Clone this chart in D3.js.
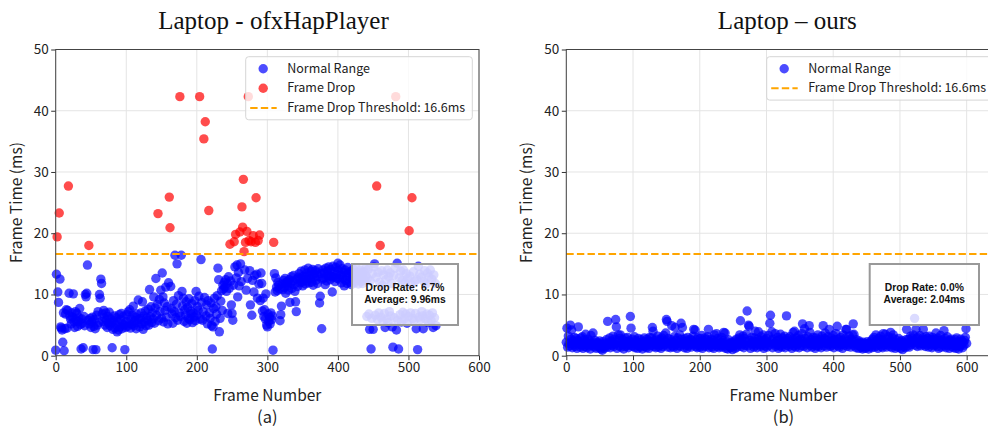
<!DOCTYPE html>
<html>
<head>
<meta charset="utf-8">
<script src="https://cdn.jsdelivr.net/npm/d3@7"></script>
<style>
    html, body { margin: 0; padding: 0; background: #fff; }
    svg { display: block; }
    .tick text { font-family: "Noto Sans CJK KR", "Noto Sans", sans-serif; }
</style>
</head>
<body>
<div id="chart"></div>
<script>
// frame time (ms) per frame number
let hapFrameTimes = [
    0.9, 13.3, 19.4, 10.4, 8.7, 23.3, 12.5, 4.7, 4.5, 4.2,
    2.2, 7.0, 0.8, 4.4, 6.8, 7.5, 4.5, 7.4, 27.7, 10.2,
    6.5, 6.0, 5.2, 7.0, 6.3, 10.1, 5.5, 4.6, 7.2, 5.8,
    6.9, 4.8, 5.6, 6.2, 7.7, 5.1, 1.1, 6.0, 5.3, 1.3,
    6.4, 4.9, 10.0, 9.6, 10.2, 14.8, 5.8, 18.0, 5.2, 6.1,
    4.6, 5.5, 6.3, 1.0, 4.8, 5.9, 4.4, 1.0, 6.6, 5.0,
    7.2, 5.4, 10.0, 9.4, 12.5, 11.8, 6.8, 5.6, 7.4, 6.2,
    5.0, 7.0, 5.8, 4.6, 6.4, 5.3, 7.1, 4.9, 6.0, 5.4,
    1.3, 4.3, 5.7, 6.5, 4.5, 5.1, 6.2, 3.9, 5.5, 4.2,
    6.7, 4.7, 5.9, 6.9, 4.4, 5.2, 6.4, 5.0, 1.0, 4.6,
    5.6, 6.7, 4.8, 7.2, 5.3, 7.5, 4.5, 6.0, 5.1, 6.6,
    8.1, 4.9, 5.7, 6.3, 4.4, 6.8, 5.4, 9.1, 5.9, 4.7,
    6.1, 7.0, 5.2, 8.8, 4.3, 6.5, 5.5, 7.3, 4.9, 6.2,
    5.8, 7.6, 5.0, 10.8, 6.4, 8.0, 5.4, 7.0, 6.0, 9.6,
    5.3, 7.8, 12.6, 6.6, 8.4, 23.2, 5.7, 9.2, 7.2, 10.7,
    6.1, 13.5, 9.6, 5.5, 8.6, 7.4, 11.2, 6.3, 8.0, 5.2,
    11.9, 25.9, 20.9, 11.3, 7.7, 6.8, 5.3, 9.0, 7.2, 16.4,
    6.2, 8.4, 15.0, 5.8, 9.8, 7.0, 42.3, 6.4, 16.4, 10.5,
    8.1, 9.4, 5.6, 7.5, 6.6, 8.8, 5.3, 7.9, 6.1, 9.3,
    5.9, 7.3, 6.8, 8.5, 5.4, 7.0, 6.3, 9.0, 5.7, 10.5,
    6.6, 8.0, 7.4, 9.7, 42.3, 6.0, 15.7, 8.7, 5.8, 7.2,
    35.4, 9.5, 38.2, 6.5, 8.3, 5.2, 9.0, 23.7, 7.0, 6.1,
    8.6, 4.9, 1.1, 4.7, 7.7, 9.4, 5.6, 8.0, 6.8, 9.8,
    14.3, 12.4, 3.9, 6.1, 8.9, 10.6, 7.4, 11.5, 10.9, 12.0,
    11.2, 12.4, 10.5, 11.8, 6.9, 12.9, 11.0, 18.2, 12.2, 8.3,
    6.9, 5.8, 11.5, 18.6, 14.5, 19.8, 12.7, 14.8, 9.6, 13.6,
    11.4, 20.2, 15.0, 12.1, 24.3, 21.0, 28.8, 17.0, 14.0, 18.5,
    10.7, 20.3, 12.6, 42.3, 18.8, 13.9, 8.3, 18.6, 6.6, 12.3,
    19.6, 10.4, 13.1, 18.5, 25.8, 13.3, 9.4, 18.8, 11.7, 19.7,
    9.0, 13.5, 11.8, 7.3, 9.4, 6.4, 7.5, 6.0, 10.1, 5.0,
    4.7, 6.8, 5.6, 6.3, 5.2, 7.0, 5.9, 6.5, 0.9, 18.5,
    13.4, 10.4, 12.7, 11.2, 10.6, 12.0, 11.5, 10.9, 5.7, 6.7,
    8.1, 11.7, 10.8, 12.3, 11.1, 12.6, 10.2, 11.9, 12.1, 11.4,
    10.7, 12.4, 8.7, 11.8, 12.9, 11.0, 12.2, 13.1, 11.6, 10.5,
    8.8, 7.2, 12.5, 11.3, 12.8, 13.4, 11.9, 12.6, 13.8, 12.0,
    11.4, 13.0, 12.4, 14.0, 11.7, 12.9, 13.5, 12.2, 14.3, 11.9,
    13.1, 12.6, 13.8, 12.0, 14.1, 11.5, 13.3, 12.8, 13.9, 12.3,
    13.6, 11.8, 14.2, 12.9, 8.6, 9.7, 13.4, 4.4, 12.5, 14.0,
    12.7, 13.5, 11.6, 14.3, 12.2, 13.8, 12.9, 14.5, 13.1, 12.4,
    14.1, 13.0, 10.4, 14.6, 12.8, 13.7, 12.1, 14.4, 13.3, 12.6,
    15.1, 13.9, 12.5, 14.8, 13.2, 11.9, 14.2, 12.7, 13.6, 11.4,
    14.0, 12.3, 13.1, 11.8, 14.4, 12.9, 13.5, 12.0, 13.8, 11.6,
    13.3, 12.5, 14.1, 11.9, 13.0, 12.2, 14.3, 12.8, 13.6, 11.7,
    13.2, 12.4, 14.0, 12.1, 13.5, 11.8, 12.9, 13.7, 12.3, 14.2,
    13.0, 6.4, 12.6, 14.1, 6.8, 4.3, 12.2, 1.1, 6.1, 13.4,
    4.3, 14.5, 15.0, 6.6, 12.8, 27.7, 5.9, 13.6, 7.0, 12.0,
    18.0, 6.3, 13.9, 11.5, 5.6, 13.2, 6.9, 4.6, 12.4, 6.0,
    14.0, 5.4, 12.9, 7.2, 13.5, 6.5, 11.8, 4.7, 1.4, 13.1,
    6.2, 14.3, 42.3, 4.2, 15.1, 5.8, 1.1, 12.7, 6.7, 13.8,
    5.5, 12.3, 7.1, 14.0, 6.0, 11.9, 6.8, 13.4, 5.3, 12.6,
    6.4, 20.4, 13.0, 7.0, 11.6, 25.8, 6.1, 13.7, 5.7, 12.2,
    6.9, 4.4, 12.4, 1.0, 14.6, 6.3, 13.3, 5.9, 12.8, 7.2,
    6.5, 4.4, 12.1, 13.9, 6.0, 11.7, 6.8, 13.5, 5.4, 12.9,
    6.6, 14.0, 5.8, 12.5, 7.0, 4.6, 13.2, 6.2, 11.8, 4.9
];

let oursFrameTimes = [
    2.2, 4.5, 1.4, 3.2, 2.0, 1.6, 5.0, 2.7, 4.2, 1.3, 2.4, 1.8, 3.0, 1.5, 2.1, 2.8, 1.2, 2.5, 4.7, 1.9,
    2.3, 1.4, 2.9, 1.7, 3.1, 1.2, 2.0, 2.6, 1.5, 3.5, 2.2, 1.3, 1.9, 2.7, 1.6, 2.4, 1.1, 3.3, 2.0, 1.7,
    3.7, 2.1, 1.4, 2.5, 1.8, 1.2, 2.2, 1.6, 2.0, 1.3, 2.4, 1.7, 1.1, 1.9, 0.9, 2.3, 1.5, 1.2, 2.0, 1.6,
    2.6, 1.4, 5.6, 2.1, 1.8, 2.9, 1.3, 2.4, 1.7, 2.2, 3.2, 1.5, 2.7, 1.9, 5.9, 4.7, 1.2, 2.5, 3.4, 1.6,
    2.8, 3.4, 1.4, 2.2, 1.8, 2.6, 1.1, 2.0, 2.9, 1.5, 2.3, 1.7, 3.0, 1.3, 2.4, 1.9, 6.4, 4.5, 1.6, 2.7,
    1.5, 2.1, 3.1, 1.3, 2.5, 1.8, 2.2, 1.2, 2.8, 1.6, 2.0, 1.4, 2.6, 1.9, 1.1, 2.3, 1.7, 2.9, 1.5, 2.1,
    1.3, 2.7, 1.8, 2.4, 1.2, 3.0, 1.6, 2.2, 2.9, 4.6, 4.0, 1.5, 2.5, 1.9, 1.3, 2.7, 1.8, 3.2, 1.4, 2.3,
    1.7, 2.6, 1.2, 2.9, 2.0, 1.5, 3.3, 1.8, 2.4, 3.7, 5.9, 5.6, 1.4, 2.8, 1.9, 2.3, 1.3, 2.6, 4.9, 1.6,
    2.2, 1.4, 3.1, 4.6, 1.8, 2.5, 1.2, 2.9, 1.6, 2.1, 3.4, 1.5, 5.3, 2.7, 4.6, 1.9, 2.3, 1.3, 2.8, 1.7,
    2.4, 1.2, 3.0, 1.6, 2.2, 1.9, 2.7, 1.4, 2.5, 1.8, 3.2, 4.3, 2.0, 4.2, 1.5, 2.6, 1.3, 2.9, 1.7, 2.2,
    1.4, 2.8, 1.9, 3.3, 1.2, 2.4, 1.6, 2.1, 2.9, 1.5, 2.6, 1.8, 3.1, 4.3, 1.3, 2.3, 1.7, 2.7, 1.4, 2.0,
    2.5, 1.2, 3.4, 1.8, 2.2, 3.6, 1.5, 2.8, 1.9, 1.3, 2.6, 1.6, 2.1, 3.0, 1.4, 2.4, 3.8, 1.7, 3.7, 1.2,
    2.3, 1.8, 1.1, 2.6, 1.5, 2.0, 1.3, 1.7, 2.2, 1.0, 2.1, 1.6, 2.4, 1.2, 1.9, 2.7, 1.4, 2.2, 1.8, 2.9,
    3.4, 5.7, 1.5, 2.6, 1.9, 3.2, 1.3, 2.8, 1.7, 2.3, 3.5, 7.3, 1.6, 5.0, 4.8, 2.5, 1.2, 2.1, 3.0, 1.8,
    2.4, 1.4, 2.9, 4.0, 1.7, 2.2, 1.3, 2.7, 3.9, 1.9, 2.5, 1.5, 3.1, 1.8, 2.3, 3.4, 1.2, 2.6, 1.6, 2.0,
    2.8, 1.4, 2.2, 3.3, 1.7, 5.3, 6.6, 2.5, 3.9, 1.3, 2.7, 1.9, 2.1, 3.6, 1.5, 2.4, 1.8, 3.0, 1.2, 2.6,
    1.6, 3.5, 2.0, 1.4, 2.9, 1.8, 2.3, 3.2, 1.3, 2.5, 6.5, 1.7, 2.8, 2.1, 1.5, 3.1, 1.9, 2.4, 1.2, 2.7,
    3.8, 1.6, 4.0, 2.2, 1.4, 2.9, 1.8, 2.5, 3.3, 1.3, 2.1, 2.7, 1.6, 3.6, 5.2, 2.3, 1.5, 4.4, 2.8, 1.9,
    2.4, 1.3, 3.1, 2.0, 4.9, 3.8, 1.7, 2.6, 1.4, 2.2, 3.0, 1.8, 2.5, 1.2, 2.9, 1.6, 2.1, 3.4, 1.5, 2.3,
    1.9, 2.7, 1.3, 3.2, 2.4, 4.9, 1.6, 2.8, 3.7, 2.0, 1.4, 2.5, 3.1, 1.8, 4.3, 2.2, 1.5, 2.9, 1.7, 2.4,
    3.3, 1.3, 2.6, 1.9, 3.6, 2.1, 4.8, 1.6, 2.7, 1.4, 2.3, 3.0, 1.8, 2.5, 1.2, 3.4, 2.0, 1.7, 2.8, 4.3,
    4.3, 1.5, 2.4, 1.8, 3.2, 2.1, 1.4, 2.7, 1.9, 3.4, 5.2, 3.5, 1.6, 2.3, 1.3, 2.6, 1.8, 2.0, 1.2, 2.4,
    1.6, 2.1, 1.3, 1.9, 1.1, 2.2, 1.5, 1.8, 1.2, 2.0, 1.4, 2.3, 1.7, 1.1, 2.1, 1.5, 1.9, 2.4, 1.3, 2.7,
    1.8, 3.0, 1.4, 2.2, 3.4, 1.6, 2.5, 1.2, 2.8, 1.9, 2.1, 3.2, 1.5, 2.6, 1.3, 3.6, 1.7, 2.3, 3.5, 2.0,
    1.4, 2.7, 1.8, 3.1, 2.2, 1.5, 3.8, 2.4, 1.3, 2.9, 3.4, 1.7, 2.1, 1.2, 2.6, 1.6, 2.0, 1.4, 2.8, 1.9,
    2.3, 1.2, 1.8, 2.5, 1.0, 2.2, 1.5, 1.9, 1.3, 2.6, 4.3, 2.0, 1.6, 2.7, 1.4, 2.3, 3.2, 1.8, 2.9, 2.1,
    3.4, 2.4, 6.1, 1.7, 4.3, 2.8, 1.5, 3.0, 2.2, 1.9, 3.3, 1.6, 2.5, 2.0, 2.9, 4.3, 1.8, 2.6, 1.5, 3.1,
    2.2, 1.7, 2.8, 1.4, 3.2, 2.4, 1.9, 2.6, 1.3, 3.0, 2.1, 1.6, 2.7, 1.8, 3.7, 2.3, 1.5, 2.9, 1.2, 2.5,
    2.0, 3.3, 1.4, 2.6, 1.8, 2.2, 4.1, 1.6, 2.8, 1.3, 2.4, 3.1, 1.7, 2.0, 1.2, 2.5, 1.9, 2.7, 1.5, 2.3,
    1.3, 2.1, 1.8, 2.6, 1.2, 2.9, 1.6, 2.3, 1.1, 2.0, 1.5, 2.7, 1.8, 2.4, 1.3, 2.2, 1.7, 2.5, 3.0, 4.4,
    2.0
];

let xTicks = [0, 100, 200, 300, 400, 500, 600];
let yTicks = [0, 10, 20, 30, 40, 50];
let dropThreshold = 16.6;
let legendLabels = ['Normal Range', 'Frame Drop', 'Frame Drop Threshold: 16.6ms'];
let panelTitles = ['Laptop - ofxHapPlayer', 'Laptop \u2013 ours'];
let panelTags = ['(a)', '(b)'];
let hapStats = ['Drop Rate: 6.7%', 'Average: 9.96ms'];
let oursStats = ['Drop Rate: 0.0%', 'Average: 2.04ms'];

let SANS = '"Noto Sans CJK KR", "Noto Sans", sans-serif';
let SERIF = '"Liberation Serif", "DejaVu Serif", serif';
let BOX_SANS = '"Liberation Sans", Arial, sans-serif';

function FramePlot(config) {
    this.svg = config.svg;
    this.title = config.title;
    this.tag = config.tag;
    this.times = config.times;
    this.stats = config.stats;

    this.left = config.left;
    this.right = config.right;
    this.top = 49.5;
    this.bottom = 355.7;
    this.xMax = config.xMax;
    this.titleX = config.titleX;
    this.legendBox = config.legendBox;
    this.statsBox = config.statsBox;
    this.radius = 4.7;

    this.prepareData();
}

FramePlot.prototype.prepareData = function() {
    this.data = this.times.map(function(t, i) {
        return { x: i, y: t, drop: t > dropThreshold };
    });
    this.hasDrops = this.data.some(function(d) { return d.drop; });
}

FramePlot.prototype.doPlot = function() {
    this.xScale = d3.scaleLinear().domain([0, this.xMax]).range([this.left, this.right]);
    this.yScale = d3.scaleLinear().domain([0, 50]).range([this.bottom, this.top]);
    this.root = this.svg.append('g');

    this.plotGrid();
    this.plotSymbol();
    this.plotThreshold();
    this.plotAxis();
    this.plotLabels();
    this.plotLegend();
    this.plotStats();
}

FramePlot.prototype.plotGrid = function() {
    let self = this;
    let grid = this.root.append('g').attr('stroke', '#e4e4e4').attr('stroke-width', 1);
    grid.selectAll('.gx').data(xTicks).enter().append('line')
        .attr('x1', function(d) { return self.xScale(d); })
        .attr('x2', function(d) { return self.xScale(d); })
        .attr('y1', this.top).attr('y2', this.bottom);
    grid.selectAll('.gy').data(yTicks).enter().append('line')
        .attr('x1', this.left).attr('x2', this.right)
        .attr('y1', function(d) { return self.yScale(d); })
        .attr('y2', function(d) { return self.yScale(d); });
}

FramePlot.prototype.plotSymbol = function() {
    let self = this;
    let normal = this.data.filter(function(d) { return !d.drop; });
    let drops = this.data.filter(function(d) { return d.drop; });

    this.root.append('g').selectAll('circle').data(normal).enter().append('circle')
        .attr('cx', function(d) { return self.xScale(d.x); })
        .attr('cy', function(d) { return self.yScale(d.y); })
        .attr('r', this.radius)
        .attr('fill', 'blue')
        .attr('fill-opacity', 0.7);

    this.root.append('g').selectAll('circle').data(drops).enter().append('circle')
        .attr('cx', function(d) { return self.xScale(d.x); })
        .attr('cy', function(d) { return self.yScale(d.y); })
        .attr('r', this.radius)
        .attr('fill', 'red')
        .attr('fill-opacity', 0.7);
}

FramePlot.prototype.plotThreshold = function() {
    this.root.append('line')
        .attr('x1', this.left).attr('x2', this.right)
        .attr('y1', this.yScale(dropThreshold)).attr('y2', this.yScale(dropThreshold))
        .attr('stroke', '#ffa500')
        .attr('stroke-width', 2)
        .attr('stroke-dasharray', '7.4,3.2');
}

FramePlot.prototype.plotAxis = function() {
    let xAxis = d3.axisBottom(this.xScale).tickValues(xTicks).tickSize(4.5).tickPadding(2.5);
    let yAxis = d3.axisLeft(this.yScale).tickValues(yTicks).tickSize(4.5).tickPadding(2.5);

    let gx = this.root.append('g')
        .attr('transform', 'translate(0,' + this.bottom + ')')
        .call(xAxis);
    let gy = this.root.append('g')
        .attr('transform', 'translate(' + this.left + ',0)')
        .call(yAxis);

    [gx, gy].forEach(function(g) {
        g.select('.domain').remove();
        g.selectAll('.tick line').attr('stroke', '#333');
        g.selectAll('.tick text')
            .attr('fill', '#222')
            .style('font-size', '13.5px');
    });

    this.root.append('rect')
        .attr('x', this.left).attr('y', this.top)
        .attr('width', this.right - this.left)
        .attr('height', this.bottom - this.top)
        .attr('fill', 'none')
        .attr('stroke', '#444')
        .attr('stroke-width', 1);
}

FramePlot.prototype.plotLabels = function() {
    let midX = (this.left + this.right) / 2;
    let midY = (this.top + this.bottom) / 2;

    this.root.append('text')
        .attr('x', this.titleX).attr('y', 29)
        .attr('text-anchor', 'middle')
        .style('font-family', SERIF).style('font-size', '25px')
        .attr('fill', '#111')
        .text(this.title);

    this.root.append('text')
        .attr('x', midX).attr('y', 400.5)
        .attr('text-anchor', 'middle')
        .style('font-family', SANS).style('font-size', '15.5px')
        .attr('fill', '#222')
        .text('Frame Number');

    this.root.append('text')
        .attr('x', midX).attr('y', 423)
        .attr('text-anchor', 'middle')
        .style('font-family', SANS).style('font-size', '16.5px')
        .attr('fill', '#222')
        .text(this.tag);

    this.root.append('text')
        .attr('transform', 'translate(' + (this.left - 34) + ',' + midY + ') rotate(-90)')
        .attr('text-anchor', 'middle')
        .style('font-family', SANS).style('font-size', '15.5px')
        .attr('fill', '#222')
        .text('Frame Time (ms)');
}

FramePlot.prototype.plotLegend = function() {
    let box = this.legendBox;
    let entries = [{ kind: 'dot', color: 'blue', label: legendLabels[0] }];
    if (this.hasDrops) entries.push({ kind: 'dot', color: 'red', label: legendLabels[1] });
    entries.push({ kind: 'line', color: '#ffa500', label: legendLabels[2] });

    let g = this.root.append('g');
    g.append('rect')
        .attr('x', box.x).attr('y', box.y)
        .attr('width', box.w).attr('height', 4 + entries.length * 19.7)
        .attr('rx', 3)
        .attr('fill', '#fff').attr('fill-opacity', 0.8)
        .attr('stroke', '#d6d6d6');

    let r = this.radius;
    entries.forEach(function(e, i) {
        let cy = box.y + 12 + i * 19.6;
        if (e.kind == 'dot') {
            g.append('circle')
                .attr('cx', box.x + 17.5).attr('cy', cy).attr('r', r)
                .attr('fill', e.color).attr('fill-opacity', 0.7);
        } else {
            g.append('line')
                .attr('x1', box.x + 4.5).attr('x2', box.x + 31)
                .attr('y1', cy).attr('y2', cy)
                .attr('stroke', e.color).attr('stroke-width', 2)
                .attr('stroke-dasharray', '7.4,3.2');
        }
        g.append('text')
            .attr('x', box.x + 41.5).attr('y', cy + 4)
            .style('font-family', SANS).style('font-size', '12.5px')
            .attr('fill', '#222')
            .text(e.label);
    });
}

FramePlot.prototype.plotStats = function() {
    let box = this.statsBox;
    let g = this.root.append('g');
    g.append('rect')
        .attr('x', box.x).attr('y', box.y)
        .attr('width', box.w).attr('height', box.h)
        .attr('fill', '#fff').attr('fill-opacity', 0.8)
        .attr('stroke', '#999').attr('stroke-width', 2);

    let cx = box.x + box.w / 2;
    this.stats.forEach(function(s, i) {
        g.append('text')
            .attr('x', cx)
            .attr('y', box.y + 27 + i * 11.6)
            .attr('text-anchor', 'middle')
            .style('font-family', BOX_SANS).style('font-size', '10.3px').style('font-weight', 'bold')
            .attr('fill', '#111')
            .text(s);
    });
}

let svg = d3.select('#chart').append('svg')
    .attr('width', 988)
    .attr('height', 429);

new FramePlot({
    svg: svg,
    title: panelTitles[0],
    tag: panelTags[0],
    times: hapFrameTimes,
    stats: hapStats,
    left: 55.7,
    right: 479,
    xMax: 600,
    titleX: 273.5,
    legendBox: { x: 245.7, y: 56.7, w: 226.6 },
    statsBox: { x: 352, y: 264, w: 106, h: 61 }
}).doPlot();

new FramePlot({
    svg: svg,
    title: panelTitles[1],
    tag: panelTags[1],
    times: oursFrameTimes,
    stats: oursStats,
    left: 566.3,
    right: 1000.7,
    xMax: 651,
    titleX: 787.3,
    legendBox: { x: 766.7, y: 56.7, w: 226.6 },
    statsBox: { x: 869.7, y: 264, w: 109.3, h: 61 }
}).doPlot();
</script>
</body>
</html>
